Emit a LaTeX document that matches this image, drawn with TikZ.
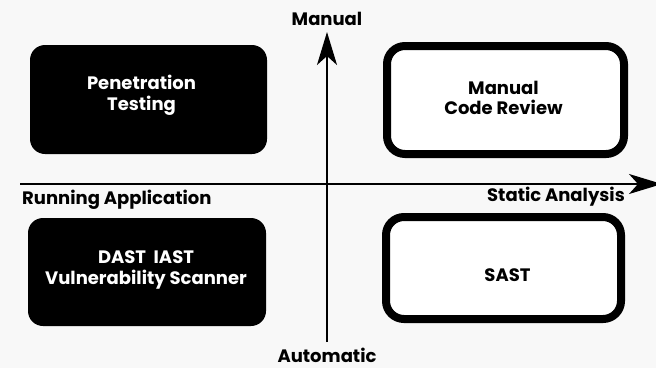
\documentclass[tikz,border=0pt]{standalone}
\usepackage{fontspec}
\setmainfont{Poppins}
\usetikzlibrary{arrows.meta}
\definecolor{bgcol}{RGB}{248,248,248}
\tikzset{
  quad/.style={rounded corners=15pt, inner sep=0pt},
  darkquad/.style={quad, fill=black, draw=none},
  lightquad/.style={quad, fill=white, draw=black, line width=8pt, rounded corners=18pt},
  quadtext/.style={align=center, inner sep=0pt, font=\bfseries\fontsize{18}{20.5}\selectfont},
  axislabel/.style={font=\bfseries\fontsize{18}{20}\selectfont, inner sep=0pt},
  axis/.style={line width=2pt, -{Stealth[length=33pt,width=20pt,inset=9pt]}},
}
\begin{document}
\begin{tikzpicture}[x=1pt,y=-1pt]
\fill[bgcol] (0,0) rectangle (656,368);
\useasboundingbox (0,0) rectangle (656,368);
%---------------------------------------------------
\coordinate (xstart) at (20,184);
\coordinate (xend)   at (662,184);
\coordinate (ystart) at (327,342);
\coordinate (yend)   at (327,32);
\draw[axis] (xstart) -- (xend);
\draw[axis] (ystart) -- (yend);
%---------------------------------------------------
\node[darkquad, minimum width=237pt, minimum height=109pt] (pentest) at (148.5,99.5) {};
\node[darkquad, minimum width=238pt, minimum height=108pt] (dast) at (147,272) {};
\node[lightquad, minimum width=237pt, minimum height=108pt] (review) at (505.5,100) {};
\node[lightquad, minimum width=235pt, minimum height=102pt] (sast) at (503.5,268) {};
%---------------------------------------------------
\node[quadtext, text=white] (pentest-txt) at ([shift={(-7,-4)}]pentest.center) {Penetration\\Testing};
\node[quadtext, text=white] (dast-txt) at ([shift={(-1,-2)}]dast.center) {DAST\ \ IAST\\Vulnerability Scanner};
\node[quadtext] (review-txt) at ([shift={(-2,-2)}]review.center) {Manual\\Code Review};
\node[quadtext] (sast-txt) at ([shift={(4,7)}]sast.center) {SAST};
%---------------------------------------------------
\node[axislabel, anchor=base] (manual) at (327,25) {Manual};
\node[axislabel, anchor=base] (auto) at (327,362) {Automatic};
\node[axislabel, anchor=base west] (running) at (22,204) {Running Application};
\node[axislabel, anchor=base east] (static) at (625,201) {Static Analysis};
\end{tikzpicture}
\end{document}
